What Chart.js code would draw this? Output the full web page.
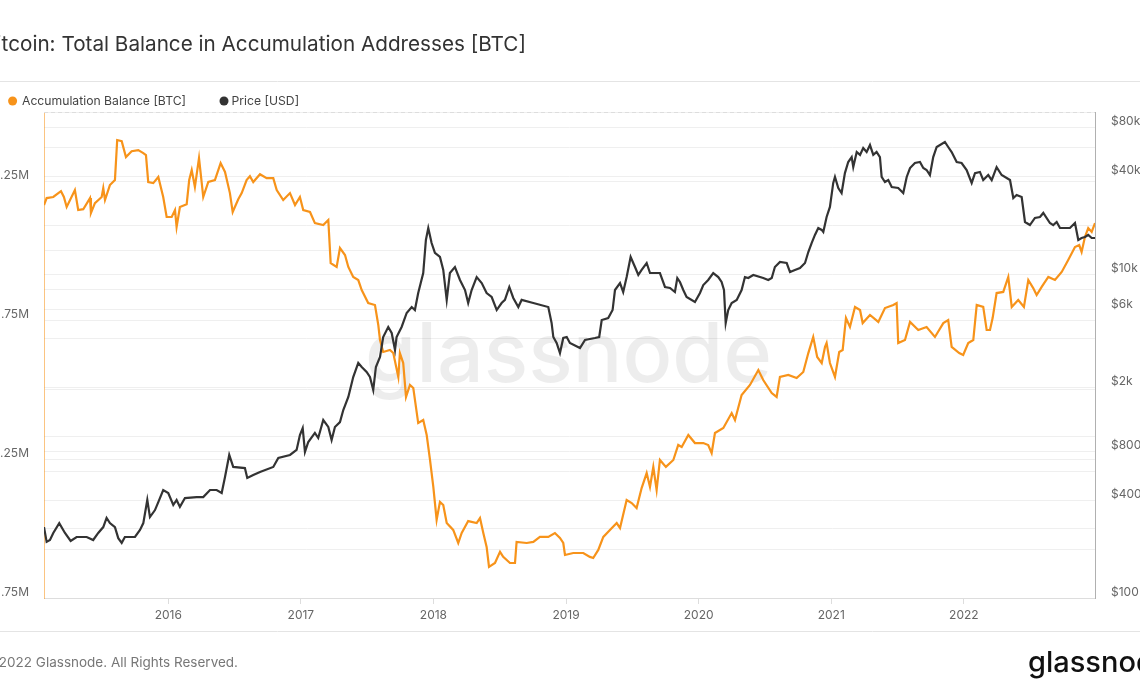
<!DOCTYPE html>
<html>
<head>
<meta charset="utf-8">
<title>Bitcoin: Total Balance in Accumulation Addresses [BTC]</title>
<script src="https://cdn.jsdelivr.net/npm/chart.js@4.4.0/dist/chart.umd.min.js"></script>
<style>
  body { margin: 0; background: #fff; overflow: hidden; width: 1140px; height: 694px; position: relative; }
  #wrap { position: absolute; left: -20px; top: 0; width: 1190px; height: 694px; }
</style>
</head>
<body>
<div id="wrap"><canvas id="accChart" width="1190" height="694"></canvas></div>
<script>
// dates are decimal years
var accDates = [
  2015.063, 2015.083, 2015.133, 2015.191, 2015.213, 2015.234, 2015.296, 2015.321, 2015.359, 2015.410,
  2015.417, 2015.447, 2015.498, 2015.510, 2015.523, 2015.560, 2015.598, 2015.615, 2015.649, 2015.681,
  2015.724, 2015.774, 2015.812, 2015.832, 2015.849, 2015.887, 2015.925, 2015.962, 2015.988, 2016.026,
  2016.051, 2016.063, 2016.088, 2016.139, 2016.158, 2016.177, 2016.201, 2016.232, 2016.264, 2016.302,
  2016.352, 2016.395, 2016.428, 2016.465, 2016.486, 2016.528, 2016.554, 2016.591, 2016.616, 2016.641,
  2016.692, 2016.742, 2016.792, 2016.818, 2016.867, 2016.918, 2016.956, 2016.993, 2017.018, 2017.069,
  2017.106, 2017.169, 2017.207, 2017.225, 2017.270, 2017.295, 2017.333, 2017.358, 2017.395, 2017.433,
  2017.459, 2017.508, 2017.559, 2017.584, 2017.597, 2017.621, 2017.672, 2017.697, 2017.735, 2017.747,
  2017.772, 2017.793, 2017.823, 2017.848, 2017.885, 2017.923, 2017.949, 2017.974, 2017.999, 2018.024,
  2018.049, 2018.074, 2018.100, 2018.149, 2018.187, 2018.213, 2018.262, 2018.326, 2018.351, 2018.376,
  2018.401, 2018.419, 2018.464, 2018.502, 2018.526, 2018.577, 2018.615, 2018.627, 2018.703, 2018.753,
  2018.803, 2018.866, 2018.916, 2018.954, 2018.979, 2018.992, 2019.054, 2019.130, 2019.180, 2019.205,
  2019.243, 2019.281, 2019.331, 2019.382, 2019.407, 2019.457, 2019.495, 2019.532, 2019.570, 2019.608,
  2019.633, 2019.658, 2019.683, 2019.708, 2019.753, 2019.809, 2019.846, 2019.872, 2019.922, 2019.972,
  2020.035, 2020.072, 2020.098, 2020.123, 2020.186, 2020.249, 2020.274, 2020.324, 2020.387, 2020.450,
  2020.487, 2020.551, 2020.588, 2020.613, 2020.676, 2020.739, 2020.789, 2020.827, 2020.864, 2020.894,
  2020.928, 2020.953, 2020.965, 2020.990, 2021.028, 2021.060, 2021.086, 2021.111, 2021.141, 2021.179,
  2021.217, 2021.237, 2021.292, 2021.355, 2021.405, 2021.468, 2021.493, 2021.505, 2021.556, 2021.594,
  2021.656, 2021.719, 2021.782, 2021.845, 2021.882, 2021.908, 2021.965, 2021.995, 2022.033, 2022.071,
  2022.097, 2022.146, 2022.172, 2022.197, 2022.217, 2022.247, 2022.297, 2022.335, 2022.361, 2022.410,
  2022.453, 2022.486, 2022.523, 2022.549, 2022.587, 2022.637, 2022.687, 2022.738, 2022.787, 2022.838,
  2022.870, 2022.888, 2022.913, 2022.938, 2022.964, 2022.989
];
// accumulation balance, millions of BTC
var accBalanceM = [
  3.165, 3.190, 3.194, 3.215, 3.194, 3.158, 3.219, 3.147, 3.150, 3.190,
  3.136, 3.172, 3.194, 3.226, 3.183, 3.237, 3.255, 3.399, 3.395, 3.338,
  3.359, 3.363, 3.352, 3.345, 3.248, 3.244, 3.266, 3.194, 3.122, 3.122,
  3.147, 3.086, 3.158, 3.168, 3.255, 3.291, 3.230, 3.334, 3.194, 3.248,
  3.255, 3.316, 3.284, 3.208, 3.140, 3.186, 3.208, 3.255, 3.269, 3.248,
  3.276, 3.262, 3.262, 3.219, 3.183, 3.208, 3.165, 3.194, 3.147, 3.140,
  3.100, 3.093, 3.111, 2.956, 2.942, 3.010, 2.985, 2.942, 2.906, 2.895,
  2.859, 2.812, 2.805, 2.733, 2.679, 2.636, 2.643, 2.632, 2.546, 2.632,
  2.596, 2.474, 2.517, 2.506, 2.380, 2.391, 2.337, 2.247, 2.150, 2.031,
  2.096, 2.085, 2.020, 1.995, 1.948, 1.984, 2.027, 2.020, 2.038, 1.984,
  1.934, 1.862, 1.876, 1.916, 1.898, 1.876, 1.876, 1.952, 1.948, 1.952,
  1.970, 1.970, 1.984, 1.966, 1.948, 1.905, 1.912, 1.912, 1.898, 1.894,
  1.923, 1.970, 1.995, 2.020, 2.002, 2.103, 2.092, 2.074, 2.146, 2.200,
  2.150, 2.222, 2.139, 2.247, 2.222, 2.247, 2.301, 2.294, 2.337, 2.308,
  2.308, 2.301, 2.272, 2.344, 2.362, 2.416, 2.391, 2.481, 2.517, 2.571,
  2.535, 2.488, 2.474, 2.546, 2.553, 2.542, 2.564, 2.632, 2.690, 2.618,
  2.596, 2.654, 2.668, 2.596, 2.546, 2.636, 2.643, 2.758, 2.726, 2.798,
  2.787, 2.740, 2.769, 2.744, 2.794, 2.805, 2.812, 2.668, 2.679, 2.744,
  2.715, 2.726, 2.690, 2.740, 2.751, 2.654, 2.632, 2.625, 2.668, 2.679,
  2.805, 2.798, 2.715, 2.715, 2.758, 2.848, 2.852, 2.906, 2.798, 2.823,
  2.798, 2.895, 2.866, 2.841, 2.870, 2.906, 2.895, 2.924, 2.967, 3.014,
  3.021, 2.996, 3.050, 3.082, 3.068, 3.100
];
var priceDates = [
  2015.063, 2015.083, 2015.108, 2015.133, 2015.178, 2015.221, 2015.264, 2015.309, 2015.385, 2015.434,
  2015.472, 2015.510, 2015.535, 2015.560, 2015.598, 2015.623, 2015.649, 2015.673, 2015.749, 2015.787,
  2015.812, 2015.842, 2015.862, 2015.900, 2015.925, 2015.962, 2016.000, 2016.038, 2016.063, 2016.088,
  2016.126, 2016.214, 2016.264, 2016.315, 2016.365, 2016.403, 2016.428, 2016.460, 2016.490, 2016.578,
  2016.596, 2016.641, 2016.692, 2016.792, 2016.830, 2016.918, 2016.968, 2016.993, 2017.014, 2017.031,
  2017.056, 2017.106, 2017.131, 2017.169, 2017.207, 2017.232, 2017.257, 2017.295, 2017.320, 2017.358,
  2017.395, 2017.433, 2017.459, 2017.496, 2017.521, 2017.546, 2017.566, 2017.597, 2017.621, 2017.659,
  2017.685, 2017.710, 2017.722, 2017.760, 2017.798, 2017.836, 2017.860, 2017.885, 2017.923, 2017.943,
  2017.961, 2017.986, 2018.011, 2018.049, 2018.074, 2018.100, 2018.124, 2018.162, 2018.200, 2018.238,
  2018.262, 2018.288, 2018.326, 2018.364, 2018.401, 2018.439, 2018.477, 2018.514, 2018.539, 2018.572,
  2018.602, 2018.640, 2018.665, 2018.753, 2018.866, 2018.891, 2018.904, 2018.929, 2018.954, 2018.979,
  2019.005, 2019.029, 2019.105, 2019.143, 2019.218, 2019.250, 2019.269, 2019.318, 2019.351, 2019.369,
  2019.407, 2019.431, 2019.457, 2019.487, 2019.520, 2019.545, 2019.570, 2019.608, 2019.633, 2019.708,
  2019.746, 2019.784, 2019.821, 2019.839, 2019.859, 2019.884, 2019.909, 2019.972, 2020.010, 2020.035,
  2020.072, 2020.110, 2020.148, 2020.173, 2020.191, 2020.204, 2020.223, 2020.249, 2020.287, 2020.324,
  2020.349, 2020.374, 2020.412, 2020.487, 2020.525, 2020.551, 2020.575, 2020.613, 2020.664, 2020.689,
  2020.726, 2020.764, 2020.802, 2020.827, 2020.852, 2020.877, 2020.902, 2020.928, 2020.940, 2020.965,
  2020.990, 2021.015, 2021.028, 2021.053, 2021.078, 2021.103, 2021.128, 2021.154, 2021.166, 2021.192,
  2021.217, 2021.241, 2021.267, 2021.292, 2021.317, 2021.342, 2021.367, 2021.380, 2021.405, 2021.430,
  2021.456, 2021.505, 2021.543, 2021.569, 2021.594, 2021.631, 2021.669, 2021.694, 2021.719, 2021.744,
  2021.769, 2021.795, 2021.857, 2021.882, 2021.908, 2021.946, 2021.983, 2022.021, 2022.059, 2022.084,
  2022.121, 2022.146, 2022.184, 2022.210, 2022.247, 2022.285, 2022.323, 2022.348, 2022.373, 2022.398,
  2022.436, 2022.461, 2022.498, 2022.536, 2022.574, 2022.599, 2022.649, 2022.674, 2022.700, 2022.725,
  2022.800, 2022.838, 2022.863, 2022.888, 2022.913, 2022.938, 2022.964, 2022.989
];
// price in USD
var priceUsd = [
  274, 222, 228, 252, 290, 252, 225, 238, 238, 228,
  252, 274, 312, 290, 274, 234, 219, 238, 238, 263,
  290, 403, 316, 349, 391, 464, 445, 375, 403, 365,
  414, 420, 420, 464, 464, 445, 558, 764, 644, 634,
  551, 574, 600, 644, 731, 764, 820, 1014, 1120, 797,
  918, 1044, 972, 1255, 1137, 944, 1137, 1219, 1446, 1741,
  2313, 2823, 2667, 2483, 2313, 1923, 2667, 3075, 4083, 4710,
  4325, 3395, 4083, 4710, 5745, 6252, 5994, 7634, 10140, 16220,
  19230, 15530, 13490, 12740, 10590, 6918, 10140, 11040, 9183, 7962,
  6622, 7962, 9575, 8790, 7634, 7211, 5994, 6622, 6918, 8314,
  7112, 6252, 6918, 6622, 6252, 4989, 4083, 3750, 3252, 4027,
  4083, 3750, 3494, 3914, 4027, 4083, 5200, 5346, 5994, 7962,
  8790, 7744, 9575, 12740, 11040, 9862, 10590, 11690, 10140, 10140,
  8314, 8200, 7744, 9441, 8929, 7962, 7211, 6720, 7634, 8551,
  9183, 10140, 9575, 8929, 7962, 4989, 5994, 6622, 6918, 7962,
  9575, 9441, 9862, 9441, 9183, 9441, 11040, 11860, 11690, 10280,
  10590, 10890, 11690, 13670, 15530, 17420, 19230, 18710, 18160, 22490,
  25940, 36470, 39720, 33960, 31620, 41980, 49100, 52720, 45710, 56620,
  54330, 59980, 56620, 62520, 54330, 56620, 52720, 39720, 36980, 38020,
  34440, 33960, 31620, 39720, 45080, 48420, 49100, 45080, 43850, 40830,
  52720, 60810, 65310, 60810, 56620, 49100, 48420, 43850, 36470, 41980,
  42660, 38020, 40830, 38020, 45710, 40830, 39160, 38020, 29440, 30750,
  29850, 20940, 20050, 22180, 22490, 23820, 20650, 20050, 20940, 19230,
  19230, 20650, 16220, 16680, 16910, 17420, 16680, 16680
];
var yearTicks = [2016, 2017, 2018, 2019, 2020, 2021, 2022];
var accTicks = [1.75, 2.25, 2.75, 3.25];
var priceGrid = [100, 200, 400, 600, 800, 1000, 2000, 4000, 6000, 8000, 10000, 20000, 40000, 60000, 80000];
var priceLabels = { 100: '$100', 400: '$400', 800: '$800', 2000: '$2k', 6000: '$6k', 10000: '$10k', 40000: '$40k', 80000: '$80k' };

var shift = 20; // canvas is moved 20px left, the picture is cropped
var chartTop = 112, chartBottom = 598;
var chartLeft = 44 + shift, chartRight = 1095 + shift;
var W = 1190, H = 694;
var font = 'Inter';

function pairs(xs, ys) {
    return xs.map((x, i) => ({ x: x, y: ys[i] }));
}

var decor = {
    id: 'decor',
    beforeDatasetsDraw(chart) {
        let ctx = chart.ctx;
        ctx.save();
        // watermark
        ctx.font = '500 100px ' + font;
        let w = ctx.measureText('glassnode').width;
        let size = 100 * 407 / w;
        ctx.font = '500 ' + size + 'px ' + font;
        ctx.fillStyle = 'rgba(0,0,0,0.07)';
        ctx.textAlign = 'left';
        ctx.textBaseline = 'alphabetic';
        ctx.fillText('glassnode', 365 + shift, 382);
        ctx.restore();
    },
    afterDraw(chart) {
        let ctx = chart.ctx;
        ctx.save();
        // title
        ctx.fillStyle = '#333';
        ctx.font = '20.7px ' + font;
        ctx.textAlign = 'right';
        ctx.textBaseline = 'middle';
        ctx.fillText('Bitcoin: Total Balance in Accumulation Addresses [BTC]', 526 + shift, 45);
        // separators
        ctx.strokeStyle = '#e4e4e4';
        ctx.lineWidth = 1;
        ctx.beginPath();
        ctx.moveTo(0, 81.5); ctx.lineTo(W, 81.5);
        ctx.moveTo(0, 631.5); ctx.lineTo(W, 631.5);
        ctx.stroke();
        // dashed top border of plot
        ctx.strokeStyle = '#dddddd';
        ctx.setLineDash([4, 3]);
        ctx.beginPath();
        ctx.moveTo(chartLeft, chartTop + 0.5); ctx.lineTo(chartRight, chartTop + 0.5);
        ctx.stroke();
        ctx.setLineDash([]);
        // legend
        ctx.font = '12.2px ' + font;
        ctx.textAlign = 'left';
        ctx.fillStyle = '#f7931a';
        ctx.beginPath(); ctx.arc(12.6 + shift, 101, 4.5, 0, Math.PI * 2); ctx.fill();
        ctx.fillStyle = '#444';
        ctx.fillText('Accumulation Balance [BTC]', 22 + shift, 101);
        ctx.fillStyle = '#333';
        ctx.beginPath(); ctx.arc(224 + shift, 101, 4.5, 0, Math.PI * 2); ctx.fill();
        ctx.fillStyle = '#444';
        ctx.fillText('Price [USD]', 231.5 + shift, 101);
        // footer
        ctx.font = '13.5px ' + font;
        ctx.fillStyle = '#777';
        ctx.textAlign = 'right';
        ctx.fillText('\u00a9 2022 Glassnode. All Rights Reserved.', 238 + shift, 663);
        ctx.font = '500 29px ' + font;
        ctx.fillStyle = '#111';
        ctx.textAlign = 'left';
        ctx.fillText('glassnode', 1028 + shift, 663);
        ctx.restore();
    }
};

var ctx = document.getElementById('accChart');
new Chart(ctx, {
    type: 'line',
    data: {
        datasets: [{
            label: 'Price [USD]',
            data: pairs(priceDates, priceUsd),
            yAxisID: 'yPrice',
            borderColor: '#333333',
            borderWidth: 2.2,
            pointRadius: 0,
            tension: 0,
            order: 0
        }, {
            label: 'Accumulation Balance [BTC]',
            data: pairs(accDates, accBalanceM),
            yAxisID: 'yAcc',
            borderColor: '#f7931a',
            borderWidth: 2.2,
            pointRadius: 0,
            tension: 0,
            order: 1
        }]
    },
    options: {
        responsive: false,
        animation: false,
        layout: { padding: { top: chartTop, left: 0, right: 0, bottom: 0 } },
        plugins: {
            legend: { display: false },
            title: { display: false },
            tooltip: { enabled: false }
        },
        scales: {
            x: {
                type: 'linear',
                min: 2015.063,
                max: 2022.989,
                afterBuildTicks: s => { s.ticks = yearTicks.map(v => ({ value: v })); },
                afterFit: s => { s.height = H - chartBottom; },
                ticks: {
                    callback: v => String(v),
                    color: '#666',
                    font: { family: font, size: 12 },
                    padding: 4,
                    maxRotation: 0,
                    autoSkip: false
                },
                grid: { drawOnChartArea: false, drawTicks: true, tickLength: 6, color: '#dddddd' },
                border: { color: '#dddddd' }
            },
            yAcc: {
                type: 'linear',
                position: 'left',
                min: 1.75,
                max: 3.5,
                afterBuildTicks: s => {
                    let t = [];
                    for (let v = 1.75; v <= 3.5; v += 0.25) t.push({ value: v });
                    s.ticks = t;
                },
                afterFit: s => { s.width = chartLeft; },
                ticks: {
                    callback: v => accTicks.indexOf(v) >= 0 ? v.toFixed(2) + 'M' : '',
                    color: '#666',
                    font: { family: font, size: 12 },
                    padding: 15,
                    labelOffset: -6,
                    autoSkip: false
                },
                grid: { color: '#efefef', drawTicks: false },
                border: { color: 'rgba(247,147,26,0.55)' }
            },
            yPrice: {
                type: 'logarithmic',
                position: 'right',
                min: 100,
                max: 100000,
                afterBuildTicks: s => { s.ticks = priceGrid.map(v => ({ value: v })); },
                afterFit: s => { s.width = W - chartRight; },
                ticks: {
                    callback: v => priceLabels[v] || '',
                    color: '#666',
                    font: { family: font, size: 12 },
                    padding: 16,
                    labelOffset: -6,
                    autoSkip: false
                },
                grid: { color: '#efefef', drawTicks: false },
                border: { color: '#b0b0b0' }
            }
        }
    },
    plugins: [decor]
});
</script>
</body>
</html>
